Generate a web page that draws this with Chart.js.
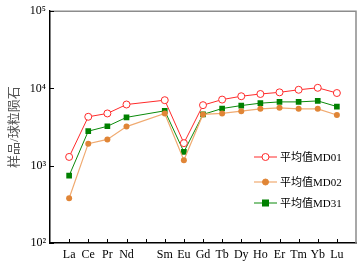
<!DOCTYPE html>
<html>
<head>
<meta charset="utf-8">
<script src="https://cdn.jsdelivr.net/npm/chart.js@4"></script>
<style>
  html, body { margin: 0; padding: 0; background: #fff; }
  #wrap { width: 364px; height: 262px; position: relative; }
</style>
</head>
<body>
<div id="wrap"><canvas id="reeChart"></canvas></div>
<script>
// REE order, Pm left empty
const elements = ['La', 'Ce', 'Pr', 'Nd', '', 'Sm', 'Eu', 'Gd', 'Tb', 'Dy', 'Ho', 'Er', 'Tm', 'Yb', 'Lu'];
const md01 = [1300, 4300, 4750, 6200, null, 7050, 1960, 6080, 7180, 7930, 8480, 8910, 9620, 10200, 8730];
const md02 = [380, 1930, 2190, 3210, null, 4750, 1180, 4610, 4750, 5090, 5450, 5620, 5450, 5450, 4530];
const md31 = [745, 2800, 3240, 4230, null, 5140, 1510, 4610, 5500, 6010, 6450, 6700, 6700, 6900, 5830];
const seriesNames = ['平均值MD01', '平均值MD02', '平均值MD31'];
const yTicks = [100, 1000, 10000, 100000];
const yTitle = '样品/球粒陨石';

const serif = "'Liberation Serif', 'Noto Sans CJK SC', serif";
const sup = { '2': '²', '3': '³', '4': '⁴', '5': '⁵' };

// blank slot at each end so La/Lu sit one step in from the frame
const labels = [''].concat(elements, ['']);
const pad = arr => [null].concat(arr, [null]);

const frameAndLegend = {
  id: 'frameAndLegend',
  afterDraw(chart) {
    const ctx = chart.ctx;
    const a = chart.chartArea;
    const x = chart.scales.x;
    const y = chart.scales.y;
    ctx.save();
    // grey top/right frame
    ctx.strokeStyle = '#8c8c8c';
    ctx.lineWidth = 1.5;
    ctx.beginPath();
    ctx.moveTo(a.left, a.top);
    ctx.lineTo(a.right, a.top);
    ctx.lineTo(a.right, a.bottom);
    ctx.stroke();
    // inward tick marks
    ctx.strokeStyle = '#000';
    ctx.lineWidth = 1;
    ctx.beginPath();
    for (let i = 1; i < labels.length - 1; i++) {
      const px = Math.round(x.getPixelForValue(i)) + 0.5;
      ctx.moveTo(px, a.bottom);
      ctx.lineTo(px, a.bottom - 4);
    }
    yTicks.forEach(v => {
      const py = Math.round(y.getPixelForValue(v)) + 0.5;
      ctx.moveTo(a.left, py);
      ctx.lineTo(a.left + 4, py);
    });
    ctx.stroke();
    // legend inside the plot, lower right
    const rows = [157, 182, 203];
    chart.data.datasets.forEach((ds, i) => {
      const ly = rows[i];
      ctx.strokeStyle = ds.borderColor;
      ctx.lineWidth = ds.borderWidth;
      ctx.beginPath();
      ctx.moveTo(254, ly);
      ctx.lineTo(277, ly);
      ctx.stroke();
      ctx.lineWidth = 1;
      ctx.fillStyle = ds.pointBackgroundColor;
      ctx.strokeStyle = ds.pointBorderColor;
      if (ds.pointStyle === 'rect') {
        ctx.fillRect(265.5 - 3.5, ly - 3.5, 7, 7);
      } else {
        ctx.beginPath();
        ctx.arc(265.5, ly, ds.pointRadius, 0, Math.PI * 2);
        ctx.fill();
        ctx.stroke();
      }
      ctx.fillStyle = '#000';
      ctx.font = "11px " + serif;
      ctx.textBaseline = 'middle';
      ctx.fillText(ds.label, 280, ly + 1);
    });
    ctx.restore();
  }
};

new Chart(document.getElementById('reeChart'), {
  type: 'line',
  data: {
    labels: labels,
    datasets: [{
      label: seriesNames[0],
      data: pad(md01),
      borderColor: '#ff2a2a',
      borderWidth: 1,
      pointStyle: 'circle',
      pointRadius: 3.5,
      pointBackgroundColor: '#ffffff',
      pointBorderColor: '#ff2a2a',
      pointBorderWidth: 1,
      spanGaps: true
    }, {
      label: seriesNames[1],
      data: pad(md02),
      borderColor: '#f0aa70',
      borderWidth: 1.2,
      pointStyle: 'circle',
      pointRadius: 3,
      pointBackgroundColor: '#e08536',
      pointBorderColor: '#e08536',
      pointBorderWidth: 0,
      spanGaps: true
    }, {
      label: seriesNames[2],
      data: pad(md31),
      borderColor: '#0a8a0a',
      borderWidth: 1,
      pointStyle: 'rect',
      pointRadius: 4,
      pointBackgroundColor: '#008000',
      pointBorderColor: '#008000',
      pointBorderWidth: 0,
      spanGaps: true
    }]
  },
  options: {
    responsive: true,
    maintainAspectRatio: false,
    animation: false,
    layout: { padding: { top: 8, right: 8, left: 0, bottom: 0 } },
    scales: {
      x: {
        type: 'category',
        offset: false,
        grid: { drawOnChartArea: false, drawTicks: false },
        border: { color: '#000', width: 1.5 },
        ticks: {
          autoSkip: false,
          maxRotation: 0,
          padding: 5,
          color: '#000',
          font: { family: serif, size: 12 }
        },
        afterFit(scale) { scale.height = 19; }
      },
      y: {
        type: 'logarithmic',
        min: 100,
        max: 100000,
        grid: { drawOnChartArea: false, drawTicks: false },
        border: { color: '#000', width: 1.5 },
        afterBuildTicks(scale) {
          scale.ticks = yTicks.map(v => ({ value: v }));
        },
        ticks: {
          padding: 4,
          color: '#000',
          font: { family: serif, size: 12 },
          callback: v => '10' + sup[String(Math.round(Math.log10(v)))]
        },
        title: {
          display: true,
          text: yTitle,
          color: '#555',
          padding: { top: 7, bottom: 6 },
          font: { family: serif, size: 13 }
        },
        afterFit(scale) { scale.width = 50; }
      }
    },
    plugins: {
      legend: { display: false },
      tooltip: { enabled: false }
    }
  },
  plugins: [frameAndLegend]
});
</script>
</body>
</html>
